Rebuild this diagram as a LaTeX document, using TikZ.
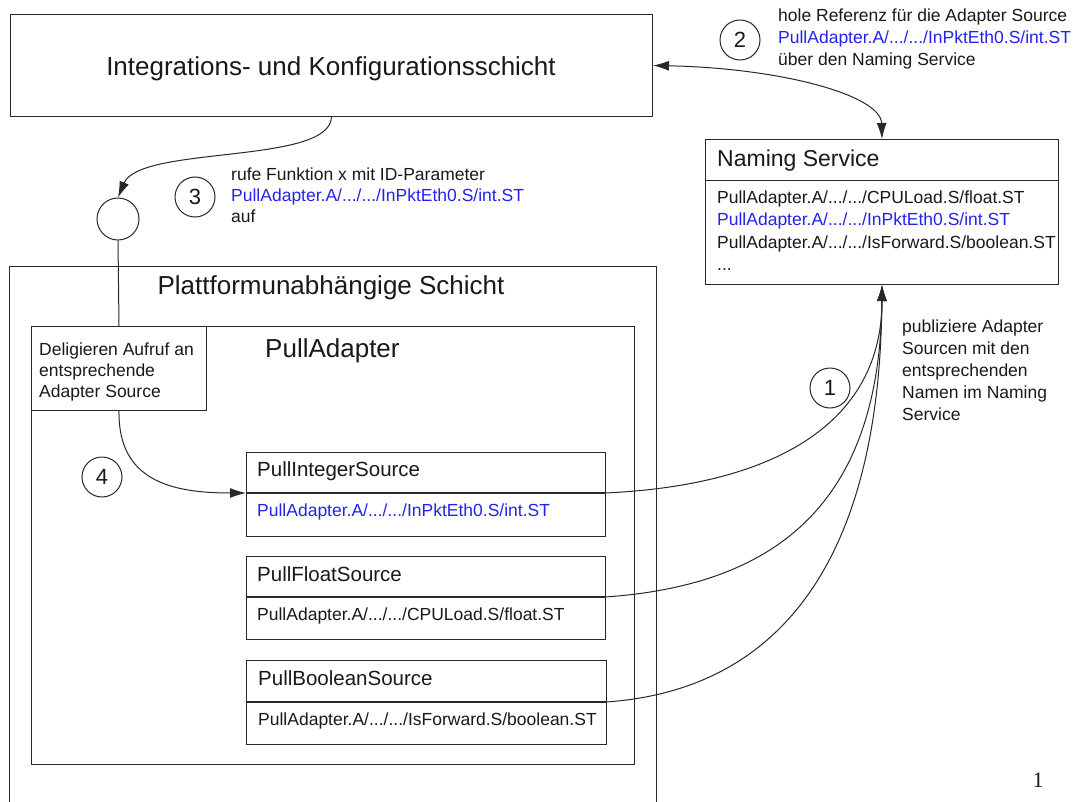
\documentclass[tikz,border=0pt]{standalone}
\usepackage{fontspec}
\setmainfont{Liberation Sans}
\newfontfamily\seriffont{Liberation Serif}
\usetikzlibrary{arrows.meta}
\definecolor{linkblue}{RGB}{35,35,235}
\definecolor{ink}{RGB}{25,25,25}
\definecolor{rule}{RGB}{40,40,40}
\begin{document}
\begin{tikzpicture}[x=1pt,y=-1pt,
  box/.style={draw=rule,line width=1pt,inner sep=0pt,anchor=north west},
  frame/.style={draw=rule,line width=1pt},
  sepline/.style={draw=rule,line width=1.5pt},
  body/.style={font=\fontsize{17.5}{21}\selectfont,text=ink,inner sep=0pt,anchor=base west},
  bluebody/.style={body,text=linkblue},
  bigtitle/.style={font=\fontsize{26}{30}\selectfont,text=ink,inner sep=0pt,anchor=base},
  nstitle/.style={font=\fontsize{23}{27}\selectfont,text=ink,inner sep=0pt,anchor=base west},
  srctitle/.style={font=\fontsize{20.5}{24}\selectfont,text=ink,inner sep=0pt,anchor=base west},
  numcirc/.style={draw=rule,line width=1pt,circle,minimum size=40pt,inner sep=0pt,font=\fontsize{22}{26}\selectfont,text=ink},
  conn/.style={draw=rule,line width=1pt},
  tip/.style={-{Latex[length=16pt,width=10pt]}}
]
\useasboundingbox (0,0) rectangle (1078,802);
\fill[white] (0,0) rectangle (1078,802);

% top layer
\node[box,minimum width=642pt,minimum height=102pt] (integ) at (10,14) {};
\node[bigtitle] (integT) at (331,76) {Integrations- und Konfigurationsschicht};

% naming service
\node[box,minimum width=353pt,minimum height=145pt] (ns) at (705,139) {};
\coordinate (nsl) at (705,181);
\coordinate (nsr) at (1058,181);
\draw[frame] (nsl) -- (nsr);
\node[nstitle] (nsT) at (717,167) {Naming Service};
\node[body] (ns1) at (717,204) {PullAdapter.A/.../.../CPULoad.S/float.ST};
\node[bluebody] (ns2) at (717,226) {PullAdapter.A/.../.../InPktEth0.S/int.ST};
\node[body] (ns3) at (717,248) {PullAdapter.A/.../.../IsForward.S/boolean.ST};
\node[body] (ns4) at (717,270) {...};

% step 2 label
\node[numcirc] (c2) at (740,40) {2};
\node[body] (t2a) at (778,22) {hole Referenz für die Adapter Source};
\node[bluebody] (t2b) at (778,44) {PullAdapter.A/.../.../InPktEth0.S/int.ST};
\node[body] (t2c) at (778,66) {über den Naming Service};

% step 3
\node[draw=rule,line width=1pt,circle,minimum size=42pt,inner sep=0pt] (port) at (118,219) {};
\node[numcirc] (c3) at (195,197) {3};
\node[body] (t3a) at (231,181) {rufe Funktion x mit ID-Parameter};
\node[bluebody] (t3b) at (231,202) {PullAdapter.A/.../.../InPktEth0.S/int.ST};
\node[body] (t3c) at (231,223) {auf};

% platform layer (open at the bottom)
\draw[frame] (9,803) -- (9,266) -- (656,266) -- (656,803);
\node[bigtitle] (platT) at (331,294) {Plattformunabhängige Schicht};

% PullAdapter
\node[box,minimum width=603pt,minimum height=438pt] (pa) at (31,326) {};
\node[font=\fontsize{26}{30}\selectfont,text=ink,inner sep=0pt,anchor=base west] (paT) at (265,357) {PullAdapter};

% delegation box
\node[box,fill=white,minimum width=175pt,minimum height=84pt] (deleg) at (31,326) {};
\node[body] (d1) at (39,355) {Deligieren Aufruf an};
\node[body] (d2) at (39,376) {entsprechende};
\node[body] (d3) at (39,397) {Adapter Source};

% step 4
\node[numcirc] (c4) at (102,477) {4};

% sources
\node[box,minimum width=359pt,minimum height=84pt] (isrc) at (246,452) {};
\coordinate (isw) at (246,493);
\coordinate (ise) at (605,493);
\draw[sepline] (isw) -- (ise);
\node[srctitle] (isT) at (257,476) {PullIntegerSource};
\node[bluebody] (isC) at (257,516) {PullAdapter.A/.../.../InPktEth0.S/int.ST};

\node[box,minimum width=359pt,minimum height=83pt] (fsrc) at (246,556) {};
\coordinate (fsw) at (246,597);
\coordinate (fse) at (605,597);
\draw[sepline] (fsw) -- (fse);
\node[srctitle] (fsT) at (257,581) {PullFloatSource};
\node[body] (fsC) at (257,620) {PullAdapter.A/.../.../CPULoad.S/float.ST};

\node[box,minimum width=360pt,minimum height=84pt] (bsrc) at (246,660) {};
\coordinate (bsw) at (246,702);
\coordinate (bse) at (606,702);
\draw[sepline] (bsw) -- (bse);
\node[srctitle] (bsT) at (258,685) {PullBooleanSource};
\node[body] (bsC) at (258,725) {PullAdapter.A/.../.../IsForward.S/boolean.ST};

% step 1
\node[numcirc] (c1) at (830,388) {1};
\node[body] (t1a) at (902,332) {publiziere Adapter};
\node[body] (t1b) at (902,354) {Sourcen mit den};
\node[body] (t1c) at (902,376) {entsprechenden};
\node[body] (t1d) at (902,398) {Namen im Naming};
\node[body] (t1e) at (902,420) {Service};

% connectors
\draw[conn,{Latex[length=16pt,width=10pt]}-{Latex[length=16pt,width=10pt]}] (integ.east) .. controls (780,68) and (881,95) .. (ns.north);
\draw[conn,tip] (integ.south) .. controls (330,165) and (140,145) .. (port.north);
\draw[conn] (port.south) -- (deleg.north);
\draw[conn,tip] (deleg.south) .. controls (118,480) and (170,493) .. (isw);
\draw[conn,tip] (ise) .. controls (780,485) and (882,420) .. (ns.south);
\draw[conn,tip] (fse) .. controls (780,585) and (880,500) .. (ns.south);
\draw[conn,tip] (bse) .. controls (780,690) and (880,560) .. (ns.south);

% page number
\node[font=\seriffont\fontsize{22}{26}\selectfont,text=ink,inner sep=0pt] (pnum) at (1038,780) {1};
\end{tikzpicture}
\end{document}
